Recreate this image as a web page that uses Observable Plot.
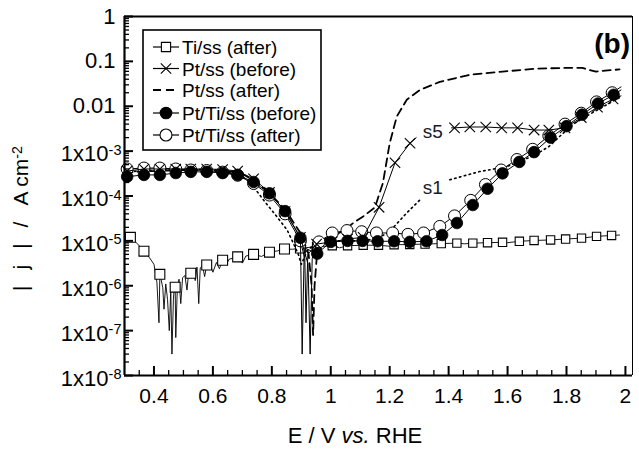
<!DOCTYPE html>
<html><head><meta charset="utf-8">
<script src="https://cdn.jsdelivr.net/npm/d3@7"></script>
<script src="https://cdn.jsdelivr.net/npm/@observablehq/plot@0.6"></script>
<style>
body{margin:0;background:#fff;}
#chart{position:relative;width:639px;height:452px;}
</style></head><body><div id="chart"></div>
<script>
// ---------- axes ----------
const xDomain = [0.3, 2.024];
const yDomain = [1e-8, 1];
const xMajorTicks = [0.4, 0.6, 0.8, 1.0, 1.2, 1.4, 1.6, 1.8, 2.0];
const xTickLabels = ["0.4", "0.6", "0.8", "1", "1.2", "1.4", "1.6", "1.8", "2"];
const xMinorTicks = [0.35, 0.45, 0.5, 0.55, 0.65, 0.7, 0.75, 0.85, 0.9, 0.95, 1.05, 1.1, 1.15, 1.25, 1.3, 1.35, 1.45, 1.5, 1.55, 1.65, 1.7, 1.75, 1.85, 1.9, 1.95];
const ySciTicks = [1e-8, 1e-7, 1e-6, 1e-5, 1e-4, 1e-3];
const ySciLabels = ["1x10^-8", "1x10^-7", "1x10^-6", "1x10^-5", "1x10^-4", "1x10^-3"];
const yDecTicks = [0.01, 0.1, 1];
const yDecLabels = ["0.01", "0.1", "1"];
const yMinorMantissas = [2, 3, 4, 5, 6, 7, 8, 9];
const yMinorDecades = [1e-8, 1e-7, 1e-6, 1e-5, 1e-4, 1e-3, 1e-2, 1e-1];

// ---------- Ti/ss (after) ----------
const tiMarkE = [0.320,0.366,0.420,0.472,0.525,0.579,0.633,0.684,0.738,0.792,0.843,0.897,0.952,1.005,1.057,1.110,1.162,1.215,1.268,1.320,1.375,1.428,1.482,1.532,1.583,1.640,1.690,1.746,1.797,1.851,1.902,1.953];
const tiMarkJ = [1.2e-5,5.9e-6,1.8e-6,9.3e-7,1.9e-6,2.9e-6,3.7e-6,4.4e-6,5.0e-6,5.6e-6,6.6e-6,6.9e-6,7.4e-6,7.8e-6,7.8e-6,8.0e-6,8.0e-6,8.2e-6,8.3e-6,8.5e-6,8.7e-6,8.9e-6,8.9e-6,9.1e-6,9.3e-6,9.8e-6,1.02e-5,1.05e-5,1.1e-5,1.15e-5,1.26e-5,1.32e-5];
const tiNoiseE = [0.300,0.345,0.385,0.400,0.410,0.417,0.424,0.430,0.434,0.440,0.446,0.452,0.457,0.461,0.466,0.470,0.474,0.479,0.485,0.491,0.497,0.505,0.512,0.518,0.533,0.540,0.546,0.552,0.557,0.565,0.572,0.590,0.600,0.612,0.622,0.645,0.655,0.700,0.712,0.765,0.820,0.870,1.030,1.200,1.455,1.600,1.980];
const tiNoiseJ = [1.5e-5,8.5e-6,4.2e-6,3.0e-6,1.2e-6,1.5e-7,1.4e-6,9e-7,3.0e-7,1.1e-6,5e-7,1.0e-7,8e-7,3.0e-8,5e-7,1.2e-6,7e-8,8e-7,1.4e-6,4e-7,1.5e-6,1.7e-6,8e-7,2.1e-6,2.4e-6,1.3e-6,2.6e-6,4e-7,2.5e-6,2.8e-6,1.6e-6,3.1e-6,2.0e-6,3.3e-6,2.4e-6,2.9e-6,3.9e-6,3.2e-6,4.6e-6,4.5e-6,6.0e-6,6.5e-6,7.0e-6,7.6e-6,8.6e-6,9.1e-6,1.35e-5];

// ---------- Pt/ss (before) ----------
const ptBMarkE = [0.309,0.366,0.420,0.474,0.525,0.579,0.633,0.684,0.738,0.792,0.845,0.897,0.952,1.005,1.057,1.110,1.164,1.218,1.269,1.420,1.472,1.526,1.580,1.634,1.690,1.740,1.795,1.850,1.905,1.958];
const ptBMarkJ = [3.6e-4,4.0e-4,4.0e-4,4.0e-4,4.0e-4,4.0e-4,3.9e-4,3.6e-4,2.4e-4,1.2e-4,4.5e-5,1.2e-5,8.5e-6,9.5e-6,1.1e-5,1.2e-5,5.6e-5,5.5e-4,1.5e-3,3.3e-3,3.45e-3,3.45e-3,3.3e-3,3.3e-3,2.95e-3,2.95e-3,3.3e-3,5.6e-3,9.5e-3,1.45e-2];
const ptBExtraE = [0.300,0.923,0.930,0.937,1.290,1.350,1.410,1.985];
const ptBExtraJ = [3.5e-4,3e-6,3e-8,4e-6,2.0e-3,NaN,3.3e-3,1.7e-2];

// ---------- Pt/ss (after) ----------
const ptAE = [0.300,0.350,0.400,0.450,0.500,0.550,0.600,0.650,0.700,0.740,0.790,0.845,0.900,0.925,0.935,0.940,0.945,0.955,0.980,1.020,1.050,1.076,1.110,1.150,1.177,1.200,1.224,1.258,1.302,1.370,1.470,1.583,1.697,1.810,1.853,1.875,1.900,1.940,1.980];
const ptAJ = [3.3e-4,3.5e-4,3.6e-4,3.7e-4,3.8e-4,3.8e-4,3.8e-4,3.6e-4,3.1e-4,2.2e-4,1.2e-4,5e-5,1.4e-5,5e-6,1e-6,8e-8,1e-6,7e-6,1.1e-5,1.4e-5,1.8e-5,2.5e-5,3.5e-5,5.6e-5,1.95e-4,1.5e-3,5.9e-3,1.4e-2,2.3e-2,3.5e-2,5.0e-2,5.9e-2,6.9e-2,7.2e-2,7.2e-2,6.5e-2,5.9e-2,6.3e-2,6.6e-2];

// ---------- Pt/Ti/ss (before) ----------
const ptTiBMarkE = [0.309,0.366,0.420,0.474,0.525,0.579,0.633,0.684,0.738,0.792,0.845,0.897,0.954,1.000,1.057,1.108,1.159,1.215,1.268,1.325,1.378,1.428,1.482,1.532,1.583,1.640,1.690,1.746,1.800,1.853,1.907,1.960];
const ptTiBMarkJ = [2.7e-4,2.95e-4,2.95e-4,3.25e-4,3.45e-4,3.45e-4,3.25e-4,2.95e-4,2.05e-4,1.15e-4,4.6e-5,1.17e-5,5.2e-6,9.5e-6,1.0e-5,1.0e-5,9.8e-6,9.8e-6,9.5e-6,9.8e-6,1.35e-5,2.5e-5,6.3e-5,1.45e-4,3.2e-4,5.75e-4,9.5e-4,2.0e-3,3.6e-3,6.5e-3,1.15e-2,1.8e-2];
const ptTiBExtraE = [0.300,0.903,0.910,1.985];
const ptTiBExtraJ = [2.6e-4,3e-8,7e-6,2.3e-2];

// ---------- Pt/Ti/ss (after) ----------
const ptTiAMarkE = [0.309,0.366,0.420,0.474,0.525,0.579,0.633,0.684,0.738,0.792,0.845,0.897,0.960,1.005,1.055,1.105,1.155,1.210,1.262,1.315,1.370,1.420,1.475,1.525,1.578,1.632,1.685,1.740,1.795,1.850,1.902,1.955];
const ptTiAMarkJ = [4.0e-4,4.2e-4,4.2e-4,4.0e-4,3.8e-4,3.7e-4,3.4e-4,2.9e-4,1.9e-4,1.05e-4,4.0e-5,1.0e-5,9.5e-6,1.5e-5,1.7e-5,1.6e-5,1.5e-5,1.5e-5,1.4e-5,1.5e-5,2.1e-5,3.6e-5,8.0e-5,1.8e-4,3.8e-4,6.5e-4,1.1e-3,2.2e-3,4.0e-3,7.0e-3,1.25e-2,2.0e-2];
const ptTiAExtraE = [0.300,0.912,0.916,0.922,1.985];
const ptTiAExtraJ = [3.9e-4,4e-6,1.5e-7,5e-6,2.7e-2];

// ---------- s1 (dotted) ----------
const s1E = [0.300,0.350,0.400,0.450,0.500,0.550,0.600,0.650,0.700,0.728,0.772,0.818,0.852,0.873,0.890,0.900,0.920,0.950,1.000,1.050,1.100,1.150,1.195,1.258,1.302,1.355,1.404,1.505,1.597,1.630,1.690,1.740,1.820,1.887,1.967,1.985];
const s1J = [3.4e-4,3.6e-4,3.7e-4,3.8e-4,3.9e-4,3.9e-4,3.8e-4,3.4e-4,2.7e-4,1.95e-4,8.1e-5,3.4e-5,1.74e-5,8.9e-6,5e-6,3e-6,6e-6,9e-6,1.0e-5,1.0e-5,1.0e-5,1.1e-5,1.5e-5,4.2e-5,8.1e-5,NaN,2.3e-4,3.5e-4,4.5e-4,5.5e-4,8e-4,1.26e-3,3.9e-3,7.1e-3,1.4e-2,1.6e-2];

// ---------- annotations & legend ----------
const noteLabels = ["s5", "s1"];
const noteE = [1.346, 1.346];
const noteJ = [2.7e-3, 1.5e-4];
const legendLabels = ["Ti/ss (after)", "Pt/ss (before)", "Pt/ss (after)", "Pt/Ti/ss (before)", "Pt/Ti/ss (after)"];
const panelLabel = "(b)";
const xTitle = ["E / V ", "vs.", " RHE"];
const yTitleParts = ["|", "j", "|", "/", "A cm"];
const yTitleExp = "-2";

// ---------- helpers ----------
const pts = (E, J) => E.map((e, i) => ({E: e, J: J[i]}));
const merged = (a, b) => a.concat(b).sort((p, q) => p.E - q.E);

const tiMarks = pts(tiMarkE, tiMarkJ);
const tiLine = merged(tiMarks, pts(tiNoiseE, tiNoiseJ));
const ptBMarks = pts(ptBMarkE, ptBMarkJ);
const ptBLine = merged(ptBMarks, pts(ptBExtraE, ptBExtraJ));
const ptALine = pts(ptAE, ptAJ);
const ptTiBMarks = pts(ptTiBMarkE, ptTiBMarkJ);
const ptTiBLine = merged(ptTiBMarks, pts(ptTiBExtraE, ptTiBExtraJ));
const ptTiAMarks = pts(ptTiAMarkE, ptTiAMarkJ);
const ptTiALine = merged(ptTiAMarks, pts(ptTiAExtraE, ptTiAExtraJ));
const s1Line = pts(s1E, s1J);
const notes = noteLabels.map((t, i) => ({t, E: noteE[i], J: noteJ[i]}));
const yMinor = yMinorDecades.flatMap(d => yMinorMantissas.map(m => m * d));
const xLabelMap = new Map(xMajorTicks.map((t, i) => [t, xTickLabels[i]]));
const ySciMap = new Map(ySciTicks.map((t, i) => [t, ySciLabels[i]]));
const yDecMap = new Map(yDecTicks.map((t, i) => [t, yDecLabels[i]]));

const defined = d => Number.isFinite(d.J);
const font = "Liberation Sans, Arial, Helvetica, sans-serif";

const plot = Plot.plot({
  width: 639, height: 452,
  marginLeft: 124, marginRight: 7, marginTop: 16, marginBottom: 77,
  style: {fontFamily: font, background: "white", color: "black"},
  x: {domain: xDomain},
  y: {type: "log", domain: yDomain},
  marks: [
    // Ti/ss (after)
    Plot.line(tiLine, {x: "E", y: "J", stroke: "black", strokeWidth: 0.9}),
    Plot.dot(tiMarks, {filter: d => d.E < 0.95, x: "E", y: "J", symbol: "square", r: 5.6, fill: "white", stroke: "black", strokeWidth: 1.1}),
    Plot.dot(tiMarks, {filter: d => d.E >= 0.95, x: "E", y: "J", symbol: "square", r: 4.7, fill: "white", stroke: "black", strokeWidth: 1.1}),
    // s1 dotted
    Plot.line(s1Line, {x: "E", y: "J", defined, stroke: "black", strokeWidth: 1.6, strokeDasharray: "1.5,3.5"}),
    // Pt/ss (after) dashed
    Plot.line(ptALine, {x: "E", y: "J", stroke: "black", strokeWidth: 1.8, strokeDasharray: "8,5"}),
    // Pt/Ti/ss (after)
    Plot.line(ptTiALine, {x: "E", y: "J", stroke: "black", strokeWidth: 1}),
    Plot.dot(ptTiAMarks, {x: "E", y: "J", r: 6, fill: "white", stroke: "black", strokeWidth: 1}),
    // Pt/Ti/ss (before)
    Plot.line(ptTiBLine, {x: "E", y: "J", stroke: "black", strokeWidth: 1}),
    Plot.dot(ptTiBMarks, {x: "E", y: "J", r: 5.8, fill: "black", stroke: "black", strokeWidth: 0.8}),
    // Pt/ss (before)
    Plot.line(ptBLine, {x: "E", y: "J", defined, stroke: "black", strokeWidth: 1}),
    Plot.dot(ptBMarks, {x: "E", y: "J", symbol: "times", r: 4.8, stroke: "black", strokeWidth: 1.1}),
    // annotations
    Plot.text(notes, {x: "E", y: "J", text: "t", fontSize: 19, fill: "#1a1a2a"}),
    // axes
    Plot.axisX(xMajorTicks, {tickSize: 0, tickPadding: 13, tickFormat: d => xLabelMap.get(d), fontSize: 21, label: null}),
    Plot.axisX(xMajorTicks, {tickSize: -9, strokeWidth: 2, tickFormat: () => "", label: null}),
    Plot.axisX(xMinorTicks, {tickSize: -5, strokeWidth: 1.3, tickFormat: () => "", label: null}),
    Plot.axisY(ySciTicks, {tickSize: 0, tickPadding: 3, tickFormat: d => ySciMap.get(d), fontSize: 22, label: null}),
    Plot.axisY(yDecTicks, {tickSize: 0, tickPadding: 9, tickFormat: d => yDecMap.get(d), fontSize: 22, label: null}),
    Plot.axisY([...ySciTicks, ...yDecTicks], {tickSize: -9, strokeWidth: 2, tickFormat: () => "", label: null}),
    Plot.axisY(yMinor, {tickSize: -5, strokeWidth: 1.3, tickFormat: () => "", label: null}),
    // frame
    Plot.ruleX([xDomain[1]], {stroke: "black", strokeWidth: 1}),
    Plot.ruleX([xDomain[0]], {stroke: "black", strokeWidth: 2.2}),
    Plot.ruleY([yDomain[0]], {stroke: "black", strokeWidth: 2.2}),
    Plot.ruleY([yDomain[1]], {stroke: "black", strokeWidth: 2.2})
  ]
});
document.getElementById("chart").appendChild(plot);

const svg = d3.select(plot);
// superscripts on y tick labels
svg.selectAll('g[aria-label="y-axis tick label"] text').each(function () {
  const t = this.textContent;
  if (t.includes("^")) {
    const [base, exp] = t.split("^");
    this.textContent = "";
    const s = d3.select(this);
    s.append("tspan").text(base);
    s.append("tspan").attr("dy", "-0.45em").attr("font-size", "0.66em").text(exp);
    s.attr("transform", (s.attr("transform") || "") + " translate(0,3)");
  }
});

// axis titles
const xt = svg.append("text").attr("x", 355).attr("y", 443).attr("text-anchor", "middle")
  .attr("font-size", 22).attr("font-family", font).attr("fill", "black");
xt.append("tspan").text(xTitle[0]);
xt.append("tspan").attr("font-style", "italic").text(xTitle[1]);
xt.append("tspan").text(xTitle[2]);

const yt = svg.append("text").attr("transform", "translate(28,291) rotate(-90)").attr("text-anchor", "start")
  .attr("font-size", 21).attr("font-family", font).attr("fill", "black");
yTitleParts.forEach((p, i) => {
  yt.append("tspan").attr("dx", i === 0 ? 0 : 16).text(p);
});
yt.append("tspan").attr("dy", "-0.45em").attr("font-size", "0.68em").text(yTitleExp);

// panel label
svg.append("text").attr("x", 630).attr("y", 53).attr("text-anchor", "end")
  .attr("font-size", 28).attr("font-weight", "bold").attr("font-family", font).attr("fill", "black").text(panelLabel);

// legend
const lg = svg.append("g").attr("transform", "translate(143,30)");
lg.append("rect").attr("width", 178).attr("height", 120).attr("fill", "white").attr("stroke", "black").attr("stroke-width", 1.6);
const rows = [17, 38.5, 60, 83, 105];
const styles = [
  {sym: d3.symbolSquare, r: 5.2, fill: "white", dash: null},
  {sym: d3.symbolTimes, r: 4.8, fill: "none", dash: null},
  {sym: null, dash: "8,5"},
  {sym: d3.symbolCircle, r: 5.8, fill: "black", dash: null},
  {sym: d3.symbolCircle, r: 6, fill: "white", dash: null}
];
legendLabels.forEach((label, i) => {
  const y = rows[i], st = styles[i];
  lg.append("line").attr("x1", 10).attr("x2", 36).attr("y1", y).attr("y2", y)
    .attr("stroke", "black").attr("stroke-width", st.dash ? 1.8 : 1.2).attr("stroke-dasharray", st.dash);
  if (st.sym) {
    lg.append("path").attr("transform", `translate(23,${y})`)
      .attr("d", d3.symbol(st.sym, Math.PI * st.r * st.r)())
      .attr("fill", st.fill).attr("stroke", "black").attr("stroke-width", 1.1);
  }
  lg.append("text").attr("x", 39).attr("y", y + 7).attr("text-anchor", "start").attr("font-size", 19).attr("font-family", font)
    .attr("fill", "black").text(label);
});
</script></body></html>
